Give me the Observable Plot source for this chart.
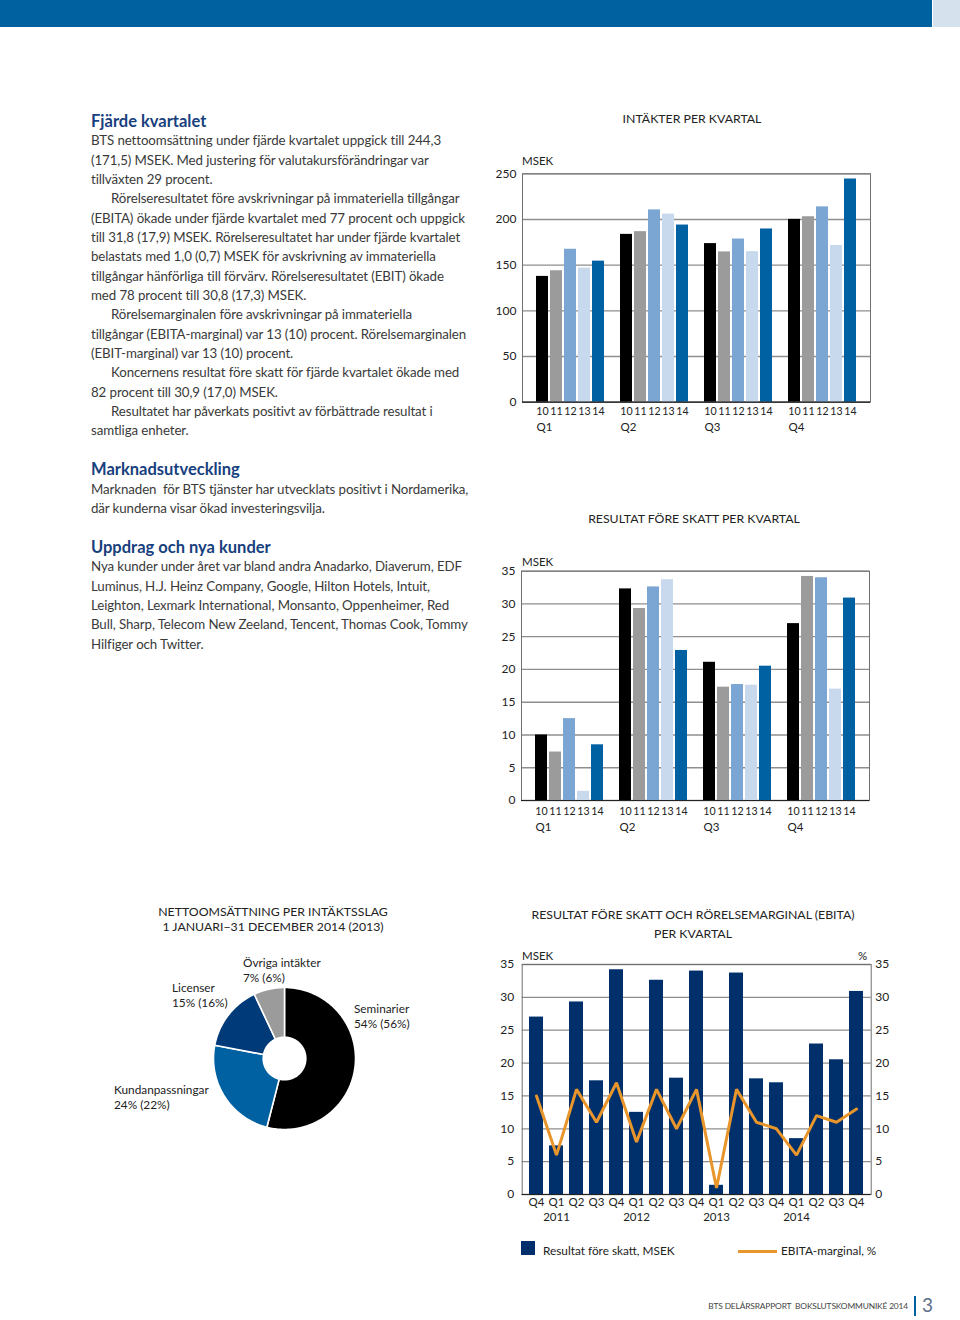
<!DOCTYPE html>
<html><head><meta charset="utf-8">
<script src="https://cdn.jsdelivr.net/npm/d3@7"></script>
<script src="https://cdn.jsdelivr.net/npm/@observablehq/plot@0.6"></script>
<style>
body{margin:0;background:#fff;}
#page{position:relative;width:960px;height:1320px;overflow:hidden;font-family:Lato,"Open Sans",sans-serif;color:#333;}
.abs{position:absolute;white-space:nowrap;}
.body{font-size:13.3px;line-height:19.35px;color:#3a3a3a;letter-spacing:-0.1px;}
.body .in{padding-left:20px;}
.h{font-weight:700;font-size:16.5px;line-height:20px;color:#17407e;}
.ct{font-size:12.3px;line-height:16px;color:#222;transform:translateX(-50%);text-align:center;}
.unit{font-size:11.5px;line-height:14px;color:#222;}
.pl{font-size:11.8px;line-height:15px;color:#222;}
.leg{font-size:11.8px;line-height:14px;color:#222;}
.plot{position:absolute;}
</style></head>
<body><div id="page">
<div class="abs" style="left:0;top:0;width:932px;height:27px;background:#0061a0"></div>
<div class="abs" style="left:933px;top:0;width:27px;height:27px;background:#d6e1ee"></div>
</div>
<script>
// ---------- data ----------
const quarters = ["Q1","Q2","Q3","Q4"];
const years = ["10","11","12","13","14"];
const revenueQ1 = [137.7, 143.9, 167.4, 146.8, 154.4];
const revenueQ2 = [183.7, 186.7, 210.5, 205.9, 193.9];
const revenueQ3 = [173.6, 164.5, 178.6, 164.8, 189.6];
const revenueQ4 = [200.1, 203.0, 213.8, 171.5, 244.3];
const revenueTicks = [0, 50, 100, 150, 200, 250];
const profitQ1 = [10.0, 7.4, 12.5, 1.4, 8.5];
const profitQ2 = [32.3, 29.3, 32.6, 33.7, 22.9];
const profitQ3 = [21.1, 17.3, 17.7, 17.6, 20.5];
const profitQ4 = [27.0, 34.2, 34.0, 17.0, 30.9];
const profitTicks = [0, 5, 10, 15, 20, 25, 30, 35];
const trendPeriods = ["Q4","Q1","Q2","Q3","Q4","Q1","Q2","Q3","Q4","Q1","Q2","Q3","Q4","Q1","Q2","Q3","Q4"];
const trendYears = [2010,2011,2011,2011,2011,2012,2012,2012,2012,2013,2013,2013,2013,2014,2014,2014,2014];
const trendProfit = [27.0, 7.4, 29.3, 17.3, 34.2, 12.5, 32.6, 17.7, 34.0, 1.4, 33.7, 17.6, 17.0, 8.5, 22.9, 20.5, 30.9];
const trendEbita = [15, 6, 16, 11, 17, 8, 16, 10, 16, 1, 16, 11, 10, 6, 12, 11, 13];
const segments = ["Seminarier", "Kundanpassningar", "Licenser", "Övriga intäkter"];
const segmentShare = [54, 24, 15, 7];
const segmentPrev = [56, 22, 16, 6];

// ---------- styles ----------
const yearColors = ["#000000", "#9b9b9b", "#7ba6d3", "#c8d8ed", "#0061a2"];
const segmentColors = ["#000000", "#0061a2", "#003a78", "#9b9b9b"];
const navy = "#00306b", orange = "#e8962b";

const page = document.getElementById("page");
function addDiv(cls, left, top, html, extra) {
  const d = document.createElement("div");
  d.className = "abs " + cls;
  if (left !== null) d.style.left = left + "px";
  d.style.top = top + "px";
  if (extra) Object.assign(d.style, extra);
  d.innerHTML = html;
  page.appendChild(d);
  return d;
}
function place(svg, left, top) {
  const w = document.createElement("div");
  w.className = "plot"; w.style.left = left + "px"; w.style.top = top + "px";
  w.appendChild(svg); page.appendChild(w);
}

// ---------- left column text ----------
addDiv("h", 91, 111, "Fjärde kvartalet");
addDiv("body", 91, 131.3, [
  "BTS nettoomsättning under fjärde kvartalet uppgick till 244,3",
  "(171,5) MSEK. Med justering för valutakursförändringar var",
  "tillväxten 29 procent.",
  "<div class='in'>Rörelseresultatet före avskrivningar på immateriella tillgångar</div>",
  "(EBITA) ökade under fjärde kvartalet med 77 procent och uppgick",
  "till 31,8 (17,9) MSEK. Rörelseresultatet har under fjärde kvartalet",
  "belastats med 1,0 (0,7) MSEK för avskrivning av immateriella",
  "tillgångar hänförliga till förvärv. Rörelseresultatet (EBIT) ökade",
  "med 78 procent till 30,8 (17,3) MSEK.",
  "<div class='in'>Rörelsemarginalen före avskrivningar på immateriella</div>",
  "tillgångar (EBITA-marginal) var 13 (10) procent. Rörelsemarginalen",
  "(EBIT-marginal) var 13 (10) procent.",
  "<div class='in'>Koncernens resultat före skatt för fjärde kvartalet ökade med</div>",
  "82 procent till 30,9 (17,0) MSEK.",
  "<div class='in'>Resultatet har påverkats positivt av förbättrade resultat i</div>",
  "samtliga enheter."
].map(l => l.startsWith("<div") ? l : "<div>" + l + "</div>").join(""));
addDiv("h", 91, 459, "Marknadsutveckling");
addDiv("body", 91, 479.8, [
  "Marknaden&nbsp; för BTS tjänster har utvecklats positivt i Nordamerika,",
  "där kunderna visar ökad investeringsvilja."
].map(l => "<div>" + l + "</div>").join(""));
addDiv("h", 91, 537, "Uppdrag och nya kunder");
addDiv("body", 91, 557.3, [
  "Nya kunder under året var bland andra Anadarko, Diaverum, EDF",
  "Luminus, H.J. Heinz Company, Google, Hilton Hotels, Intuit,",
  "Leighton, Lexmark International, Monsanto, Oppenheimer, Red",
  "Bull, Sharp, Telecom New Zeeland, Tencent, Thomas Cook, Tommy",
  "Hilfiger och Twitter."
].map(l => "<div>" + l + "</div>").join(""));

// ---------- grouped bar charts ----------
function groupedChart(series, ticks, g) {
  const rows = quarters.flatMap((q, qi) => years.map((y, yi) => ({key: q + "-" + y, q, year: y, value: series[qi][yi]})));
  const barKeys = rows.map(d => d.key);
  const domain = quarters.flatMap((q, qi) => [...years.map(y => q + "-" + y), ...(qi < quarters.length - 1 ? ["gap" + qi] : [])]);
  return Plot.plot({
    width: g.width, height: g.height,
    marginLeft: g.ml, marginRight: g.mr, marginTop: g.mt, marginBottom: g.mb,
    style: {fontFamily: "Lato, 'Open Sans', sans-serif", fontSize: "11.5px", color: "#222", background: "transparent", overflow: "visible"},
    x: {type: "band", domain, paddingInner: 0.14, paddingOuter: 0, insetLeft: g.il, insetRight: g.ir, axis: null},
    y: {domain: [0, ticks[ticks.length - 1]], axis: null},
    color: {domain: years, range: yearColors},
    marks: [
      Plot.gridY({ticks, stroke: "#8e8e8e", strokeOpacity: 1, strokeWidth: 1.3}),
      Plot.frame({stroke: "#707070", strokeWidth: 1}),
      Plot.barY(rows, {x: "key", y: "value", fill: "year"}),
      Plot.ruleY([0], {stroke: "#222", strokeWidth: 1.2}),
      Plot.axisY({ticks, tickSize: 0, tickPadding: g.yp, fontSize: 12, label: null}),
      Plot.axisX({ticks: barKeys, tickSize: 0, tickPadding: g.xp, tickFormat: k => k.split("-")[1], fontSize: 10.6, label: null}),
      Plot.text(quarters, {x: q => q + "-" + years[0], text: q => q, frameAnchor: "bottom", dy: g.qdy, dx: -6, textAnchor: "start", fontSize: 11.5})
    ]
  });
}

addDiv("ct", 692, 111, "INTÄKTER PER KVARTAL");
addDiv("unit", 522, 154, "MSEK");
place(groupedChart([revenueQ1, revenueQ2, revenueQ3, revenueQ4], revenueTicks,
  {width: 390, height: 290, ml: 32, mr: 10, mt: 23.3, mb: 38.3, il: 9, ir: 9, yp: 6, xp: 5, qdy: 29}), 490, 150);

addDiv("ct", 694, 511, "RESULTAT FÖRE SKATT PER KVARTAL");
addDiv("unit", 522, 555, "MSEK");
place(groupedChart([profitQ1, profitQ2, profitQ3, profitQ4], profitTicks,
  {width: 390, height: 290, ml: 31, mr: 11, mt: 20.7, mb: 40, il: 9.7, ir: 9, yp: 6, xp: 7, qdy: 30}), 490, 550);

// ---------- trend chart ----------
const trendRows = trendPeriods.map((p, i) => ({key: p + " " + trendYears[i], period: p, year: trendYears[i], profit: trendProfit[i], ebita: trendEbita[i]}));
addDiv("ct", 693, 905, "RESULTAT FÖRE SKATT OCH RÖRELSEMARGINAL (EBITA)<br>PER KVARTAL", {lineHeight: "19px"});
addDiv("unit", 522, 949, "MSEK");
addDiv("unit", 858, 949, "%");
place(Plot.plot({
  width: 410, height: 290, marginLeft: 31.7, marginRight: 29.3, marginTop: 24, marginBottom: 36,
  style: {fontFamily: "Lato, 'Open Sans', sans-serif", fontSize: "11.5px", color: "#222", background: "transparent", overflow: "visible"},
  x: {type: "band", domain: trendRows.map(d => d.key), paddingInner: 0.31, paddingOuter: 0.2, axis: null},
  y: {domain: [0, 35], axis: null},
  marks: [
    Plot.gridY({ticks: profitTicks, stroke: "#8e8e8e", strokeOpacity: 1, strokeWidth: 1.3}),
    Plot.frame({stroke: "#707070", strokeWidth: 1}),
    Plot.barY(trendRows, {x: "key", y: "profit", fill: navy}),
    Plot.ruleY([0], {stroke: "#222", strokeWidth: 1.2}),
    Plot.lineY(trendRows, {x: "key", y: "ebita", stroke: orange, strokeWidth: 3, strokeLinejoin: "miter"}),
    Plot.axisY({ticks: profitTicks, tickSize: 0, tickPadding: 8, fontSize: 12, label: null}),
    Plot.axisY({anchor: "right", ticks: profitTicks, tickSize: 0, tickPadding: 4, fontSize: 12, label: null}),
    Plot.axisX({tickSize: 0, tickPadding: 3, tickFormat: k => k.split(" ")[0], fontSize: 11.5, label: null}),
    Plot.text(trendRows.filter(d => d.period === "Q1"), {x: "key", text: d => String(d.year), frameAnchor: "bottom", dy: 26, fontSize: 11.5})
  ]
}), 490, 940);

// legend
addDiv("", 521, 1241, "", {width: "14px", height: "14px", background: navy});
addDiv("leg", 543, 1244, "Resultat före skatt, MSEK");
addDiv("", 738, 1249.5, "", {width: "39px", height: "3px", background: orange});
addDiv("leg", 781, 1244, "EBITA-marginal, %");

// ---------- donut ----------
addDiv("ct", 273, 904, "NETTOOMSÄTTNING PER INTÄKTSSLAG");
addDiv("ct", 273, 919, "1 JANUARI−31 DECEMBER 2014 (2013)");
const segmentRows = segments.map((name, i) => ({name, share: segmentShare[i], prev: segmentPrev[i]}));
const arcs = d3.pie().sort(null).value(d => d.share)(segmentRows);
const innerR = 0.3;
const piePoints = arcs.flatMap(arc => {
  const n = Math.max(2, Math.ceil((arc.endAngle - arc.startAngle) / 0.02));
  const angles = d3.range(n + 1).map(i => arc.startAngle + (arc.endAngle - arc.startAngle) * i / n);
  const pts = angles.map(a => ({name: arc.data.name, x: Math.sin(a), y: Math.cos(a)}))
    .concat(angles.slice().reverse().map(a => ({name: arc.data.name, x: innerR * Math.sin(a), y: innerR * Math.cos(a)})));
  pts.push(pts[0]);
  return pts;
});
place(Plot.plot({
  width: 142, height: 142, margin: 0,
  style: {background: "transparent", overflow: "visible"},
  x: {domain: [-1, 1], axis: null},
  y: {domain: [-1, 1], axis: null},
  color: {domain: segments, range: segmentColors},
  marks: [
    Plot.line(piePoints, {x: "x", y: "y", z: "name", fill: "name", stroke: "white", strokeWidth: 1.6, curve: "linear"})
  ]
}), 212.5, 987);
const pieLabelPos = [[354, 1000.5], [114, 1081.5], [172, 979.5], [243, 954.5]];
segmentRows.forEach((d, i) => addDiv("pl", pieLabelPos[i][0], pieLabelPos[i][1], d.name + "<br>" + d.share + "% (" + d.prev + "%)"));

// ---------- footer ----------
addDiv("", null, 1300, "BTS DELÅRSRAPPORT&nbsp; BOKSLUTSKOMMUNIKÉ 2014", {right: "52px", fontSize: "8.4px", lineHeight: "12px", color: "#444", letterSpacing: "-0.15px"});
addDiv("", 914, 1296, "", {width: "2px", height: "20px", background: "#0061a0"});
addDiv("", 922, 1294, "3", {fontSize: "19px", lineHeight: "22px", color: "#5d6f8a"});
</script>
</body></html>
